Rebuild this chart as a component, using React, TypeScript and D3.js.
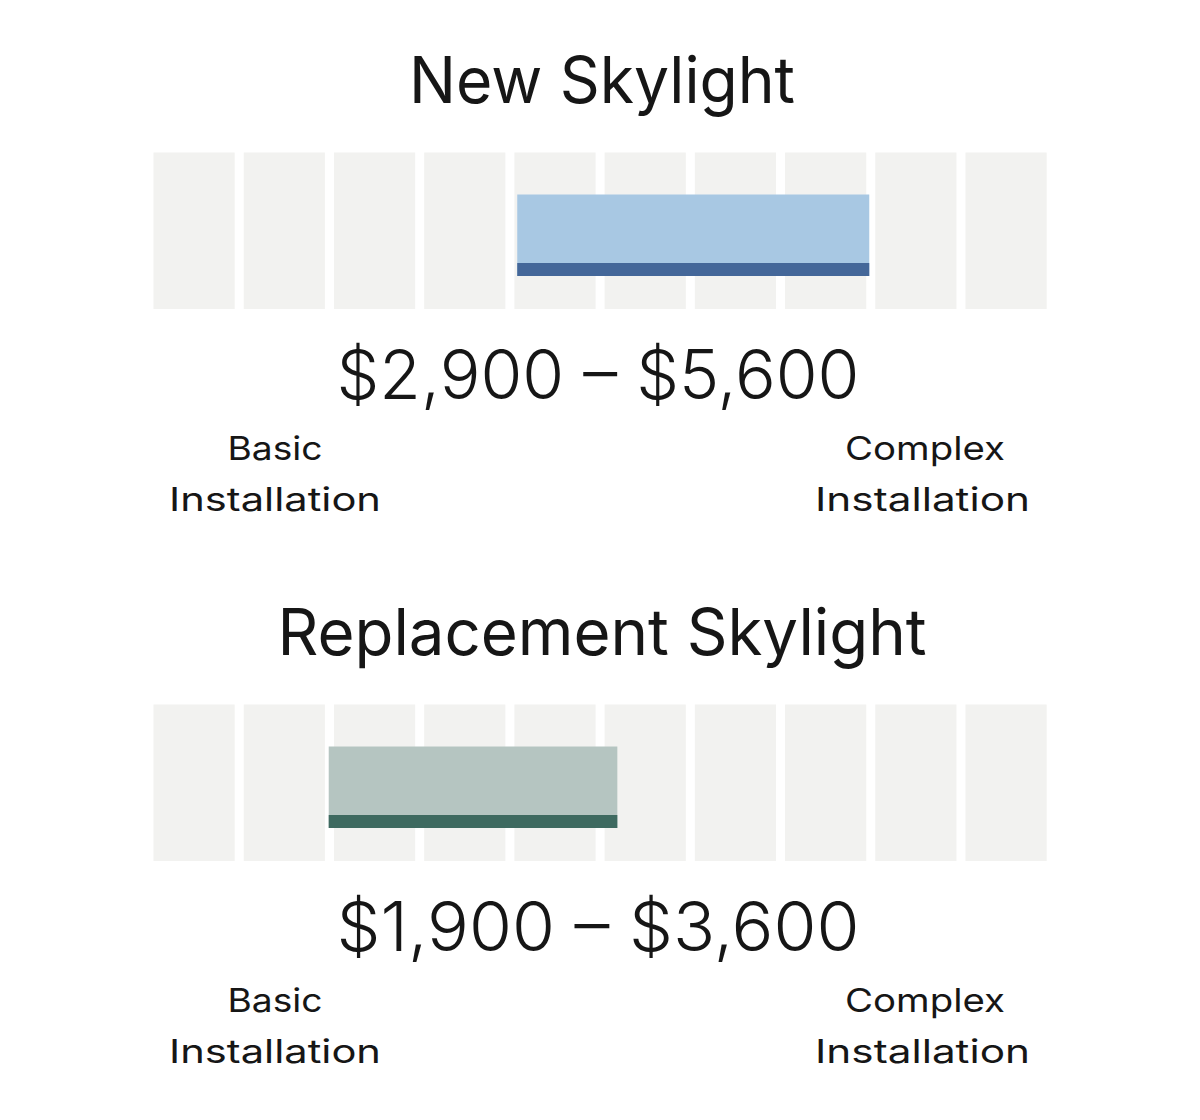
import React from "react";
import * as d3 from "d3";

// ---- data ----
const chartTitles = ["New Skylight", "Replacement Skylight"];
const lowValues = [2900, 1900];
const highValues = [5600, 3600];
const scaleDomains: [number, number][] = [
  [110, 6961],
  [868, 6129],
];
const gridCells = d3.range(10);
const leftLabel = ["Basic", "Installation"];
const rightLabel = ["Complex", "Installation"];

const fillLight = ["#a8c8e3", "#b5c5c1"];
const fillDark = ["#446799", "#3e6a60"];

const W = 1200;
const H = 1120;
const X0 = 153.5;
const X1 = 1046.7;
const PANEL_DY = 552;
const FONT = "Inter, 'Noto Sans', Roboto, sans-serif";
const INK = "#161616";

const fmt = (v: number) => "$" + d3.format(",")(v);

function Panel({ i }: { i: number }) {
  const oy = i * PANEL_DY;
  const band = d3
    .scaleBand<number>()
    .domain(gridCells)
    .range([X0, X1])
    .paddingInner(0.1)
    .paddingOuter(0);
  const x = d3.scaleLinear().domain(scaleDomains[i]).range([X0, X1]);
  const cellTop = 152.5 + oy;
  const cellH = 156.5;
  const barTop = cellTop + 42;
  const barH = 81.5;
  const stripeH = 13;
  const x0 = x(lowValues[i]);
  const x1 = x(highValues[i]);
  const titleWidths = [386, 649];
  return (
    <g>
      <text
        x={602}
        y={103 + oy}
        textAnchor="middle"
        fontFamily={FONT}
        fontSize={64}
        fill={INK}
        textLength={titleWidths[i]}
        lengthAdjust="spacingAndGlyphs"
      >
        {chartTitles[i]}
      </text>
      {gridCells.map((c) => (
        <rect
          key={c}
          x={band(c)}
          y={cellTop}
          width={band.bandwidth()}
          height={cellH}
          fill="#f2f2f0"
        />
      ))}
      <rect x={x0} y={barTop} width={x1 - x0} height={barH} fill={fillLight[i]} />
      <rect
        x={x0}
        y={barTop + barH - stripeH}
        width={x1 - x0}
        height={stripeH}
        fill={fillDark[i]}
      />
      <text
        x={598}
        y={399 + oy}
        textAnchor="middle"
        fontFamily={FONT}
        fontSize={68}
        fontWeight={300}
        fill={INK}
        textLength={523}
        lengthAdjust="spacingAndGlyphs"
      >
        {fmt(lowValues[i]) + " – " + fmt(highValues[i])}
      </text>
      {leftLabel.map((t, k) => (
        <text
          key={"l" + k}
          x={275}
          y={460 + k * 51 + oy}
          textAnchor="middle"
          fontFamily={FONT}
          fontSize={33}
          fill={INK}
          textLength={k === 0 ? 95 : 212}
          lengthAdjust="spacingAndGlyphs"
        >
          {t}
        </text>
      ))}
      {rightLabel.map((t, k) => (
        <text
          key={"r" + k}
          x={k === 0 ? 925 : 922.5}
          y={460 + k * 51 + oy}
          textAnchor="middle"
          fontFamily={FONT}
          fontSize={33}
          fill={INK}
          textLength={k === 0 ? 160 : 215}
          lengthAdjust="spacingAndGlyphs"
        >
          {t}
        </text>
      ))}
    </g>
  );
}

export default function App() {
  return (
    <svg
      width={W}
      height={H}
      viewBox={`0 0 ${W} ${H}`}
      style={{ position: "absolute", left: 0, top: 0, background: "#fff" }}
    >
      <rect width={W} height={H} fill="#fff" />
      {chartTitles.map((_, i) => (
        <Panel key={i} i={i} />
      ))}
    </svg>
  );
}
